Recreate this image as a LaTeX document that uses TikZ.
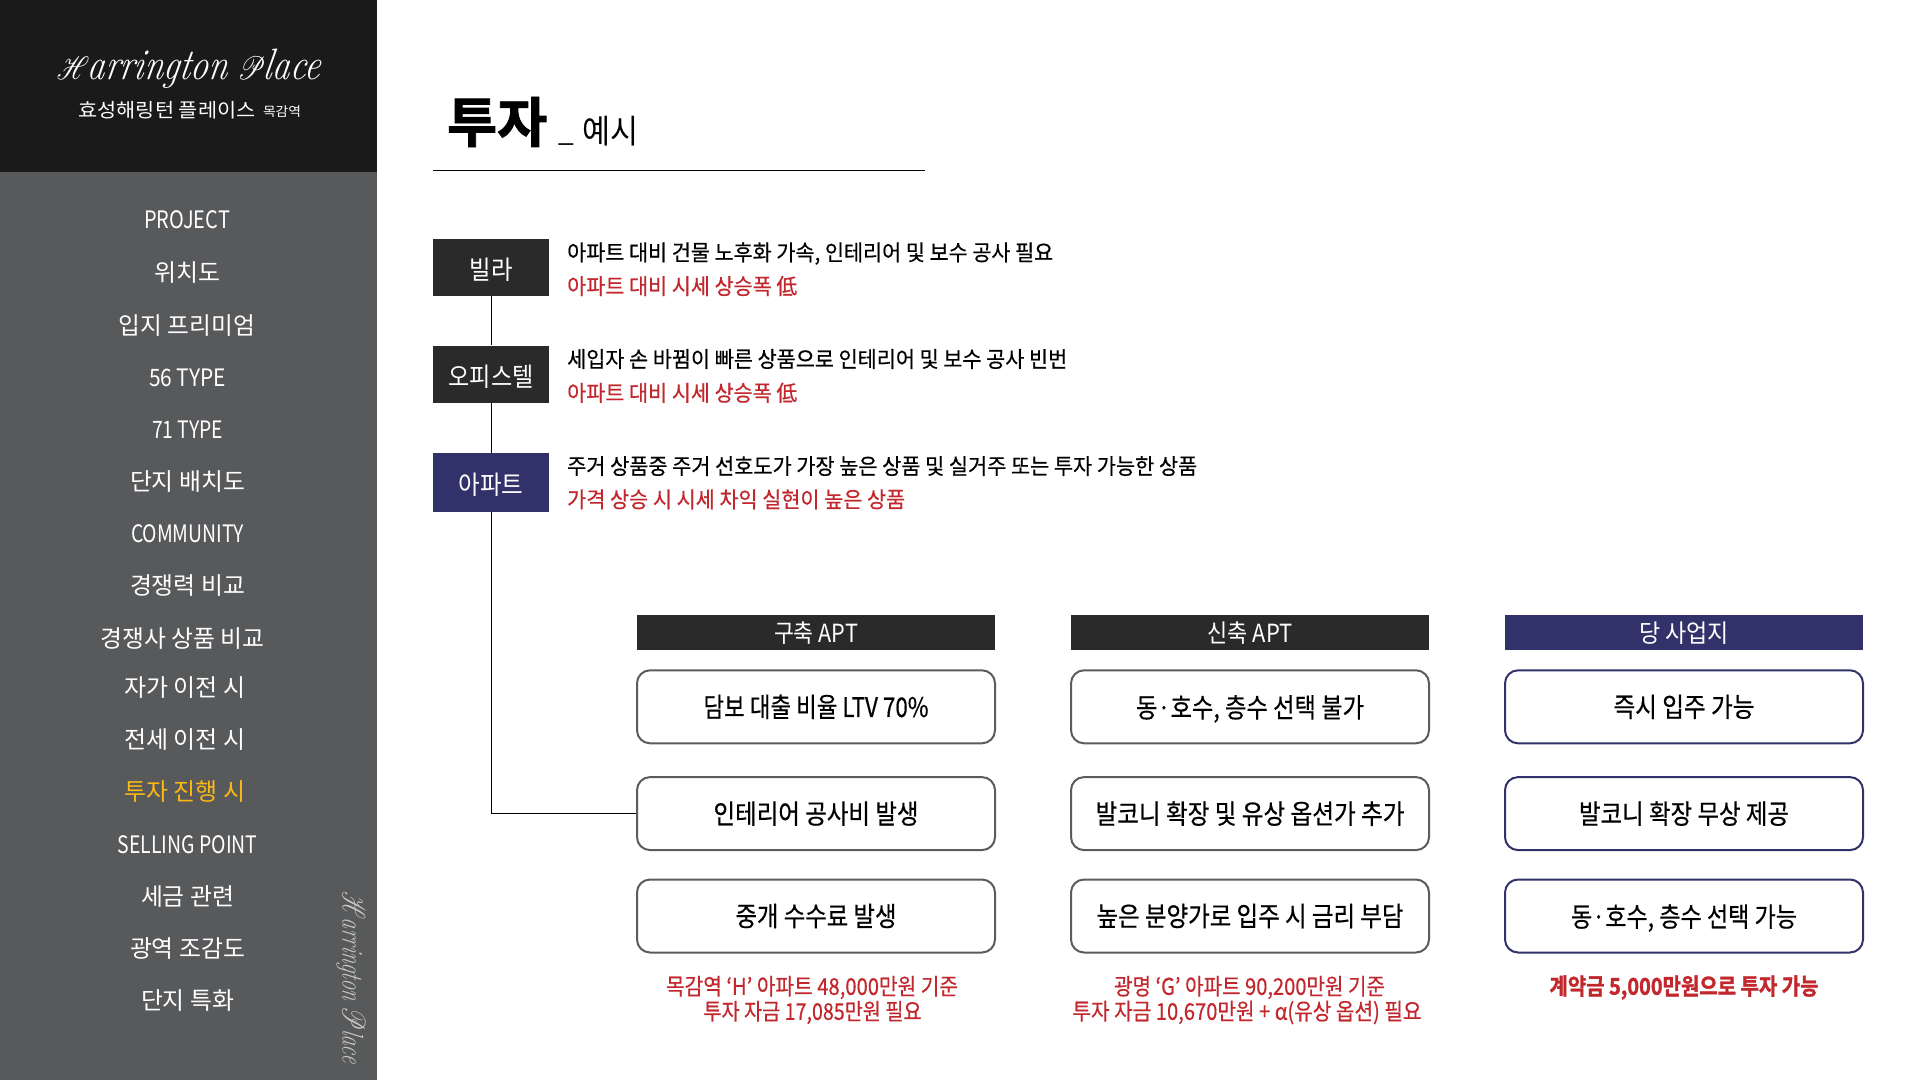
\documentclass[tikz,border=0pt]{standalone}
\usepackage{fontspec}
\usepackage{graphicx}
\usepackage{mathrsfs}
\newfontfamily\kr[FakeBold=0.5]{Noto Sans CJK KR}
\newfontfamily\krl{Noto Sans CJK KR}
\newfontfamily\krb[FakeBold=1.6]{Noto Sans CJK KR Bold}
\newfontfamily\scr[ItalicFeatures={FakeSlant=0.2}]{Latin Modern Roman}
\newcommand{\fw}[2]{\resizebox{#1pt}{\height}{#2}}
\newcommand{\logotext}{\scr\scalebox{1.3}{$\mathscr{H}$}\kern-.08em\textit{arrington} \scalebox{1.3}{$\mathscr{P}$}\kern-.08em\textit{lace}}
\definecolor{topdark}{HTML}{1A1A1A}
\definecolor{sidegrey}{HTML}{58595B}
\definecolor{boxdark}{HTML}{2B2A2B}
\definecolor{navy}{HTML}{32326B}
\definecolor{redtxt}{HTML}{C1272D}
\definecolor{roundgrey}{HTML}{5C5C5C}
\definecolor{yel}{HTML}{FDB913}
\definecolor{sidelogo}{HTML}{C8C8C0}
\tikzset{
  x=1pt,y=-1pt,
  side/.style={inner sep=0,text=white,yshift=-0.8pt,font=\krl\fontsize{24}{24}\selectfont},
  tag/.style={inner sep=0,minimum width=115.5pt,minimum height=57.5pt,text=white,font=\krl\fontsize{26}{26}\selectfont},
  desc/.style={inner sep=0,anchor=west,font=\kr\fontsize{22}{22}\selectfont},
  head/.style={inner sep=0,minimum width=358pt,minimum height=35pt,text=white,font=\krl\fontsize{25}{25}\selectfont},
  card/.style={inner sep=0,minimum width=358pt,minimum height=73pt,rounded corners=13pt,fill=white,line width=2pt,font=\kr\fontsize{27}{27}\selectfont},
  note/.style={inner sep=0,text=redtxt,font=\kr\fontsize{23}{23}\selectfont},
  link/.style={draw=black,line width=1pt},
}
\begin{document}
\begin{tikzpicture}
\useasboundingbox (0,0) rectangle (1920,1080);
\fill[sidegrey] (0,172) rectangle (377,1080);
\fill[topdark] (0,0) rectangle (377,172);
\node[inner sep=0,text=white,font=\fontsize{44}{44}\selectfont] (logo) at (188,69) {\fw{262}{\logotext}};
\node[inner sep=0,text=white,font=\krl\fontsize{19.5}{20}\selectfont] (kname) at (167,110.5) {\fw{177}{효성해링턴 플레이스}};
\node[inner sep=0,text=white,font=\krl\fontsize{13}{13}\selectfont] (kstation) at (282,111.5) {\fw{38}{목감역}};
\node[side] (s1) at (187,219) {\fw{86}{PROJECT}};
\node[side] (s2) at (187.5,272) {\fw{66}{위치도}};
\node[side] (s3) at (187,324.5) {\fw{136}{입지 프리미엄}};
\node[side] (s4) at (187.5,377) {\fw{77}{56 TYPE}};
\node[side] (s5) at (187.5,428.6) {\fw{71}{71 TYPE}};
\node[side] (s6) at (187.5,481) {\fw{115}{단지 배치도}};
\node[side] (s7) at (187.5,532.7) {\fw{113}{COMMUNITY}};
\node[side] (s8) at (187.5,585) {\fw{115}{경쟁력 비교}};
\node[side] (s9) at (182.5,638) {\fw{164}{경쟁사 상품 비교}};
\node[side] (s10) at (184.8,687) {\fw{121}{자가 이전 시}};
\node[side] (s11) at (184.8,738.5) {\fw{121}{전세 이전 시}};
\node[side,text=yel] (s12) at (184.8,791) {\fw{121}{투자 진행 시}};
\node[side] (s13) at (187.5,843.7) {\fw{140}{SELLING POINT}};
\node[side] (s14) at (187.5,895.5) {\fw{93}{세금 관련}};
\node[side] (s15) at (187.5,948) {\fw{115}{광역 조감도}};
\node[side] (s16) at (187.5,999.5) {\fw{93}{단지 특화}};
\node[inner sep=0,text=sidelogo,rotate=-90,font=\fontsize{30}{30}\selectfont] (sidelogotxt) at (351,977) {\fw{171}{\logotext}};
\node[inner sep=0,anchor=west,font=\krb\fontsize{54}{54}\selectfont] (title) at (447,122) {\fw{100}{투자}};
\node[inner sep=0,anchor=base west,font=\krl\fontsize{28}{28}\selectfont] (titleu) at (558,141) {\_};
\node[inner sep=0,anchor=west,font=\krl\fontsize{33}{33}\selectfont] (titleb) at (582,131) {\fw{56}{예시}};
\coordinate (ruleA) at (433,170);
\coordinate (ruleB) at (925,170);
\draw[line width=1pt,draw=black] (ruleA) -- (ruleB);
\node[tag,fill=boxdark] (villa) at (491,267.5) {\raisebox{-1pt}[\height][0pt]{\fw{43}{빌라}}};
\node[tag,fill=boxdark] (office) at (491,374.3) {\raisebox{-1pt}[\height][0pt]{\fw{85}{오피스텔}}};
\node[tag,fill=navy,minimum height=58.7pt] (apt) at (491,482.3) {\raisebox{-1pt}[\height][0pt]{\fw{65}{아파트}}};
\node[desc] (d1) at (567,253.5) {\fw{486}{아파트 대비 건물 노후화 가속, 인테리어 및 보수 공사 필요}};
\node[desc,text=redtxt] (d2) at (567,286) {\fw{230}{아파트 대비 시세 상승폭 低}};
\node[desc] (d3) at (567,359) {\fw{500}{세입자 손 바뀜이 빠른 상품으로 인테리어 및 보수 공사 빈번}};
\node[desc,text=redtxt] (d4) at (567,392.7) {\fw{230}{아파트 대비 시세 상승폭 低}};
\node[desc] (d5) at (567,466) {\fw{630}{주거 상품중 주거 선호도가 가장 높은 상품 및 실거주 또는 투자 가능한 상품}};
\node[desc,text=redtxt] (d6) at (567,499.3) {\fw{338}{가격 상승 시 시세 차익 실현이 높은 상품}};
\node[head,fill=boxdark] (h1) at (816,632.5) {\raisebox{0pt}[\height][0pt]{\fw{84}{구축 APT}}};
\node[head,fill=boxdark] (h2) at (1250,632.5) {\raisebox{0pt}[\height][0pt]{\fw{85}{신축 APT}}};
\node[head,fill=navy] (h3) at (1684,632.5) {\raisebox{0pt}[\height][0pt]{\fw{90}{당 사업지}}};
\node[card,draw=roundgrey] (a1) at (816,706.8) {\fw{225}{담보 대출 비율 LTV 70\%}};
\node[card,draw=roundgrey] (a2) at (816,813.6) {\fw{205}{인테리어 공사비 발생}};
\node[card,draw=roundgrey] (a3) at (816,916) {\fw{161}{중개 수수료 발생}};
\node[card,draw=roundgrey] (b1) at (1250,706.8) {\raisebox{0.5pt}[\height][0pt]{\fw{228}{동·호수, 층수 선택 불가}}};
\node[card,draw=roundgrey] (b2) at (1250,813.6) {\fw{309}{발코니 확장 및 유상 옵션가 추가}};
\node[card,draw=roundgrey] (b3) at (1250,916) {\fw{307}{높은 분양가로 입주 시 금리 부담}};
\node[card,draw=navy] (c1) at (1684,706.8) {\fw{141}{즉시 입주 가능}};
\node[card,draw=navy] (c2) at (1684,813.6) {\fw{210}{발코니 확장 무상 제공}};
\node[card,draw=navy] (c3) at (1684,916) {\raisebox{0.5pt}[\height][0pt]{\fw{226}{동·호수, 층수 선택 가능}}};
\node[note] (n1) at (812,987.5) {\fw{292}{목감역 ‘H’ 아파트 48,000만원 기준}};
\node[note] (n2) at (812.5,1012.5) {\fw{218}{투자 자금 17,085만원 필요}};
\node[note] (n3) at (1249.5,987.5) {\fw{271}{광명 ‘G’ 아파트 90,200만원 기준}};
\node[note] (n4) at (1247,1012.5) {\fw{349}{투자 자금 10,670만원 + α(유상 옵션) 필요}};
\node[note,font=\krb\fontsize{23}{23}\selectfont] (n5) at (1684,987.5) {\fw{269}{계약금 5,000만원으로 투자 가능}};
\draw[link] (villa) -- (office);
\draw[link] (office) -- (apt);
\draw[link] (apt.south) |- (a2.west);
\end{tikzpicture}
\end{document}
